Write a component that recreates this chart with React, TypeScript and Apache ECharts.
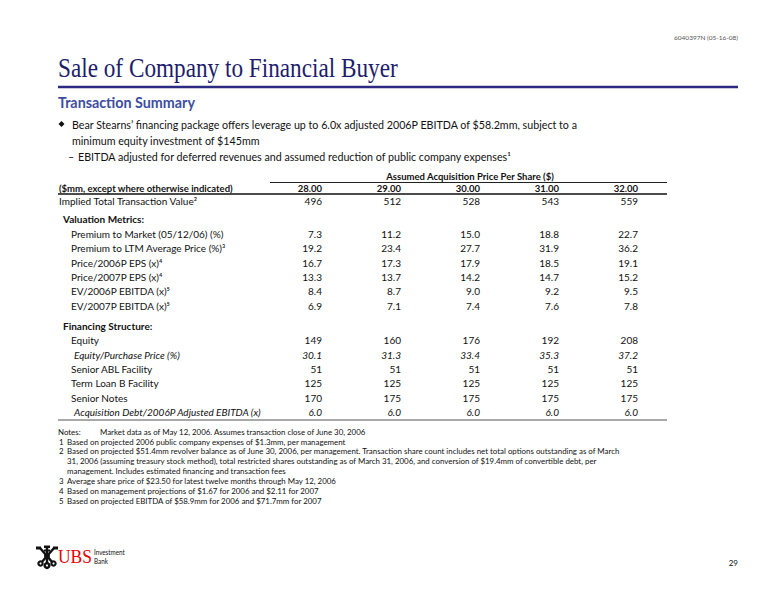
import React, { useEffect, useRef } from "react";
import * as echarts from "echarts";

// ---------- data ----------
const docId = "6040397N (05-16-08)";
const titleText = "Sale of Company to Financial Buyer";
const subtitleText = "Transaction Summary";
const bulletLines = [
  "Bear Stearns’ financing package offers leverage up to 6.0x adjusted 2006P EBITDA of $58.2mm, subject to a",
  "minimum equity investment of $145mm",
];
const subBulletText =
  "EBITDA adjusted for deferred revenues and assumed reduction of public company expenses¹";

const spanHeader = "Assumed Acquisition Price Per Share ($)";
const stubHeader = "($mm, except where otherwise indicated)";
const pricePerShare = [28, 29, 30, 31, 32];

const impliedLabel = "Implied Total Transaction Value²";
const impliedValue = [496, 512, 528, 543, 559];

const valuationTitle = "Valuation Metrics:";
const valuationLabels = [
  "Premium to Market (05/12/06) (%)",
  "Premium to LTM Average Price (%)³",
  "Price/2006P EPS (x)⁴",
  "Price/2007P EPS (x)⁴",
  "EV/2006P EBITDA (x)⁵",
  "EV/2007P EBITDA (x)⁵",
];
const premiumToMarket = [7.3, 11.2, 15.0, 18.8, 22.7];
const premiumToLTM = [19.2, 23.4, 27.7, 31.9, 36.2];
const priceEPS2006 = [16.7, 17.3, 17.9, 18.5, 19.1];
const priceEPS2007 = [13.3, 13.7, 14.2, 14.7, 15.2];
const evEbitda2006 = [8.4, 8.7, 9.0, 9.2, 9.5];
const evEbitda2007 = [6.9, 7.1, 7.4, 7.6, 7.8];

const financingTitle = "Financing Structure:";
const financingLabels = [
  "Equity",
  "Equity/Purchase Price (%)",
  "Senior ABL Facility",
  "Term Loan B Facility",
  "Senior Notes",
  "Acquisition Debt/2006P Adjusted EBITDA (x)",
];
const equity = [149, 160, 176, 192, 208];
const equityPctPrice = [30.1, 31.3, 33.4, 35.3, 37.2];
const seniorABL = [51, 51, 51, 51, 51];
const termLoanB = [125, 125, 125, 125, 125];
const seniorNotes = [170, 175, 175, 175, 175];
const debtToEbitda = [6.0, 6.0, 6.0, 6.0, 6.0];

const noteMarks = ["Notes:", "1", "2", "", "", "3", "4", "5"];
const noteLines = [
  "Market data as of May 12, 2006. Assumes transaction close of June 30, 2006",
  "Based on projected 2006 public company expenses of $1.3mm, per management",
  "Based on projected $51.4mm revolver balance as of June 30, 2006, per management. Transaction share count includes net total options outstanding as of March",
  "31, 2006 (assuming treasury stock method), total restricted shares outstanding as of March 31, 2006, and conversion of $19.4mm of convertible debt, per",
  "management. Includes estimated financing and transaction fees",
  "Average share price of $23.50 for latest twelve months through May 12, 2006",
  "Based on management projections of $1.67 for 2006 and $2.11 for 2007",
  "Based on projected EBITDA of $58.9mm for 2006 and $71.7mm for 2007",
];
const pageNumber = "29";

// ---------- style ----------
const SANS = "Lato, 'Noto Sans', 'DejaVu Sans', sans-serif";
const SERIF = "'Liberation Serif', 'DejaVu Serif', serif";
const NAVY = "#1d1d6c";
const BLUE = "#3c4d9f";
const INK = "#111111";

function txt(x: number, y: number, text: string, o: any = {}) {
  const align = o.align || "left";
  return {
    type: "text",
    x,
    y,
    scaleX: o.scaleX || 1,
    silent: true,
    style: {
      text,
      fill: o.fill || INK,
      fontFamily: o.family || SANS,
      fontSize: o.size || 10,
      fontWeight: o.weight || "normal",
      fontStyle: o.style || "normal",
      align,
      textAlign: align,
      verticalAlign: "middle",
      textVerticalAlign: "middle",
    },
  };
}
function line(x1: number, y1: number, x2: number, y2: number, stroke: string, w: number) {
  return { type: "line", silent: true, shape: { x1, y1, x2, y2 }, style: { stroke, lineWidth: w } };
}

function buildGraphic() {
  const els: any[] = [];
  // header
  els.push(txt(738, 37, docId, { align: "right", size: 6.5, fill: "#555" }));
  els.push(txt(58, 68, titleText, { family: SERIF, size: 27, fill: NAVY, scaleX: 0.86 }));
  els.push(line(58, 87, 738, 87, "#2a2a80", 2.5));
  els.push(txt(58, 102, subtitleText, { size: 14.3, weight: "bold", fill: BLUE }));

  // bullets
  els.push({
    type: "polygon",
    silent: true,
    shape: { points: [[61.5, 121], [64.5, 124], [61.5, 127], [58.5, 124]] },
    style: { fill: INK },
  });
  els.push(txt(72, 124, bulletLines[0], { size: 10.7 }));
  els.push(txt(72, 140, bulletLines[1], { size: 10.7 }));
  els.push(txt(68, 156, "–", { size: 10.7 }));
  els.push(txt(78, 156, subBulletText, { size: 10.7 }));

  // table layout
  const colRight = (i: number) => 322 + i * 79;
  const spanLeft = 270;
  const tableRight = 667;
  els.push(
    txt((colRight(0) - 20 + colRight(4)) / 2, 176, spanHeader, { align: "center", weight: "bold", size: 9.5 })
  );
  els.push(line(spanLeft, 182.5, tableRight, 182.5, "#222", 1));
  els.push(txt(59, 188, stubHeader, { weight: "bold", size: 9.5 }));
  pricePerShare.forEach((p, i) =>
    els.push(txt(colRight(i), 188, p.toFixed(2), { align: "right", weight: "bold", size: 9.5 }))
  );
  els.push(line(58, 194, tableRight, 194, "#111", 1.6));

  const valueRow = (y: number, label: string, lx: number, vals: number[], dec: number, italic = false) => {
    const st = italic ? "italic" : "normal";
    els.push(txt(lx, y, label, { style: st }));
    vals.forEach((v, i) => els.push(txt(colRight(i), y, v.toFixed(dec), { align: "right", style: st })));
  };

  const STEP = 14.3;
  valueRow(200.5, impliedLabel, 59, impliedValue, 0);
  els.push(txt(63, 219, valuationTitle, { weight: "bold" }));
  const valSeries = [premiumToMarket, premiumToLTM, priceEPS2006, priceEPS2007, evEbitda2006, evEbitda2007];
  valuationLabels.forEach((l, k) => valueRow(234 + k * STEP, l, 71, valSeries[k], 1));
  els.push(txt(63, 325.5, financingTitle, { weight: "bold" }));
  const finSeries = [equity, equityPctPrice, seniorABL, termLoanB, seniorNotes, debtToEbitda];
  const finDec = [0, 1, 0, 0, 0, 1];
  const finItalic = [false, true, false, false, false, true];
  financingLabels.forEach((l, k) =>
    valueRow(340.3 + k * STEP, l, finItalic[k] ? 74 : 71, finSeries[k], finDec[k], finItalic[k])
  );
  els.push(line(58, 420, tableRight, 420, "#555", 1.2));

  // notes
  noteLines.forEach((t, k) => {
    const y = 431.5 + k * 9.9;
    const m = noteMarks[k];
    if (m) els.push(txt(m === "Notes:" ? 58 : 59, y, m, { size: 8.5, scaleX: 0.93 }));
    els.push(txt(k === 0 ? 100 : 67, y, t, { size: 8.5, scaleX: 0.93 }));
  });

  // footer logo (three keys)
  const cx = 47;
  els.push(line(cx, 546, cx, 565, INK, 2.4));
  els.push(line(cx - 7, 548, cx + 6, 563, INK, 2.4));
  els.push(line(cx + 7, 548, cx - 6, 563, INK, 2.4));
  els.push({ type: "circle", silent: true, shape: { cx, cy: 565.5, r: 3.6 }, style: { fill: INK } });
  els.push({ type: "circle", silent: true, shape: { cx: cx - 6.5, cy: 563.5, r: 3.2 }, style: { fill: INK } });
  els.push({ type: "circle", silent: true, shape: { cx: cx + 6.5, cy: 563.5, r: 3.2 }, style: { fill: INK } });
  els.push({ type: "circle", silent: true, shape: { cx, cy: 565.5, r: 1.1 }, style: { fill: "#fff" } });
  els.push({ type: "circle", silent: true, shape: { cx: cx - 6.5, cy: 563.5, r: 1 }, style: { fill: "#fff" } });
  els.push({ type: "circle", silent: true, shape: { cx: cx + 6.5, cy: 563.5, r: 1 }, style: { fill: "#fff" } });
  els.push({ type: "rect", silent: true, shape: { x: cx - 3, y: 545.5, width: 6, height: 2.5 }, style: { fill: INK } });
  els.push({ type: "rect", silent: true, shape: { x: cx - 3, y: 549.5, width: 6, height: 2 }, style: { fill: INK } });
  els.push({ type: "rect", silent: true, shape: { x: cx - 11, y: 546.5, width: 5, height: 3 }, style: { fill: INK } });
  els.push({ type: "rect", silent: true, shape: { x: cx + 6, y: 546.5, width: 5, height: 3 }, style: { fill: INK } });
  els.push({ type: "circle", silent: true, shape: { cx, cy: 556, r: 3 }, style: { fill: INK } });
  els.push(txt(58, 557, "UBS", { family: SERIF, size: 19, fill: "#e60000", scaleX: 0.92 }));
  els.push(txt(94, 552, "Investment", { size: 7, scaleX: 0.9 }));
  els.push(txt(94, 561, "Bank", { size: 7, scaleX: 0.9 }));
  els.push(txt(738, 563, pageNumber, { align: "right", size: 8 }));
  return els;
}

export default function App() {
  const ref = useRef<HTMLDivElement>(null);
  useEffect(() => {
    if (!ref.current) return;
    const chart = echarts.init(ref.current, null, { renderer: "svg" });
    chart.setOption({
      animation: false,
      backgroundColor: "#ffffff",
      graphic: { elements: buildGraphic() },
    });
    return () => chart.dispose();
  }, []);
  return (
    <div
      ref={ref}
      style={{ position: "fixed", left: 0, top: 0, width: 772, height: 598, background: "#fff" }}
    />
  );
}
